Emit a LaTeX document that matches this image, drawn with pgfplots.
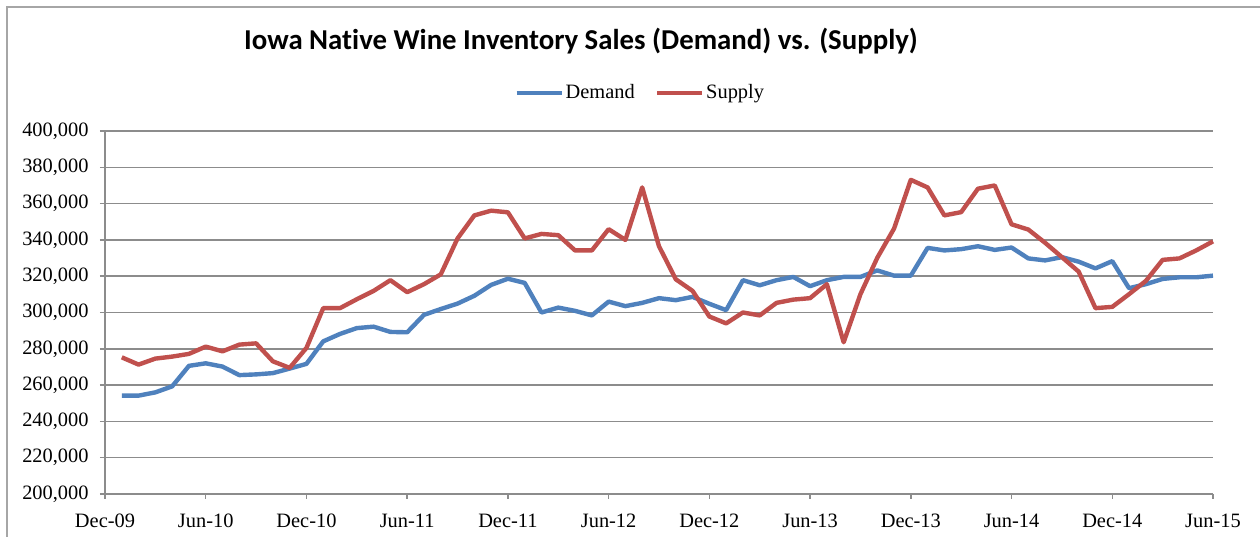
\documentclass[border=0pt]{standalone}
\usepackage{fontspec}
\setmainfont{Liberation Serif}
\newfontfamily\titlefont[Ligatures=NoCommon]{Carlito}
\usepackage{pgfplots}
\pgfplotsset{compat=1.18}
\usepackage{pgfplotstable}
\definecolor{demandblue}{HTML}{4F81BD}
\definecolor{supplyred}{HTML}{C0504D}
\definecolor{gridgray}{HTML}{8C8C8C}
\definecolor{framegray}{HTML}{A6A6A6}
\pgfplotstableread{
m demand supply
1 254200 275300
2 254200 271300
3 256000 274600
4 259300 275700
5 270600 277200
6 272000 281200
7 270200 278600
8 265500 282300
9 265900 283000
10 266600 273100
11 269100 269500
12 271700 280500
13 284100 302400
14 288200 302400
15 291400 307300
16 292200 311900
17 289300 317800
18 289100 311200
19 298700 315600
20 301900 321000
21 304900 340800
22 309200 353500
23 315200 356100
24 318600 355200
25 316300 340800
26 300000 343300
27 302700 342600
28 300900 334200
29 298400 334200
30 306000 345900
31 303500 340000
32 305300 368900
33 307900 336500
34 306800 318300
35 308600 311900
36 304800 297800
37 301300 294000
38 317800 300000
39 315000 298400
40 317800 305300
41 319600 307100
42 314500 307900
43 317800 315600
44 319600 283600
45 319600 310100
46 323200 330100
47 320300 346200
48 320300 373100
49 335600 368900
50 334200 353500
51 334900 355300
52 336500 368200
53 334500 370000
54 335800 348600
55 329800 345700
56 328700 338400
57 330500 330500
58 328000 322500
59 324300 302400
60 328300 303100
61 313400 310100
62 315600 317400
63 318500 329000
64 319400 329800
65 319400 334200
66 320300 339200
}\wine
\begin{document}
\begin{tikzpicture}
\useasboundingbox (-52.5bp,-21.5bp) rectangle (577.5bp,247bp);
\draw[framegray, line width=0.75bp] (-49bp,-21.5bp) -- (-49bp,243.5bp) -- (577.5bp,243.5bp);
\begin{axis}[
  at={(0,0)}, anchor=south west,
  scale only axis,
  width=554bp, height=181.5bp,
  xmin=0, xmax=66, ymin=200000, ymax=400000,
  axis lines*=left,
  axis line style={gridgray, line width=0.75bp},
  xtick={0,6,...,66},
  xticklabels={Dec-09,Jun-10,Dec-10,Jun-11,Dec-11,Jun-12,Dec-12,Jun-13,Dec-13,Jun-14,Dec-14,Jun-15},
  ytick={200000,220000,240000,260000,280000,300000,320000,340000,360000,380000,400000},
  yticklabels={{200,000},{220,000},{240,000},{260,000},{280,000},{300,000},{320,000},{340,000},{360,000},{380,000},{400,000}},
  scaled y ticks=false,
  tick align=outside,
  major tick length=2.5bp,
  tick style={gridgray, line width=0.75bp},
  ymajorgrids,
  major grid style={gridgray, line width=0.75bp},
  tick label style={font=\fontsize{10.2bp}{12bp}\selectfont, text=black},
  yticklabel style={anchor=east, inner sep=0pt, xshift=-5.5bp},
  xticklabel style={anchor=base, inner sep=0pt, yshift=-14bp},
  legend style={at={(0.483,1.104)}, anchor=center, draw=none, fill=none,
    font=\fontsize{10.2bp}{12bp}\selectfont, legend columns=2,
    /tikz/every even column/.append style={column sep=9bp},
    nodes={inner sep=1bp}},
  legend image code/.code={\draw[#1] (0bp,0bp) -- (22.5bp,0bp);},
  clip=false,
]
\addplot[demandblue, line width=2.2bp, line join=round] table[x=m, y=demand] {\wine};
\addlegendentry{Demand}
\addplot[supplyred, line width=2.2bp, line join=round] table[x=m, y=supply] {\wine};
\addlegendentry{Supply}
\end{axis}
\node[anchor=base, font=\titlefont\bfseries\fontsize{14.4bp}{17bp}\selectfont] at (238bp,222.35bp) {Iowa Native Wine Inventory Sales (Demand) vs. (Supply)};
\end{tikzpicture}
\end{document}
